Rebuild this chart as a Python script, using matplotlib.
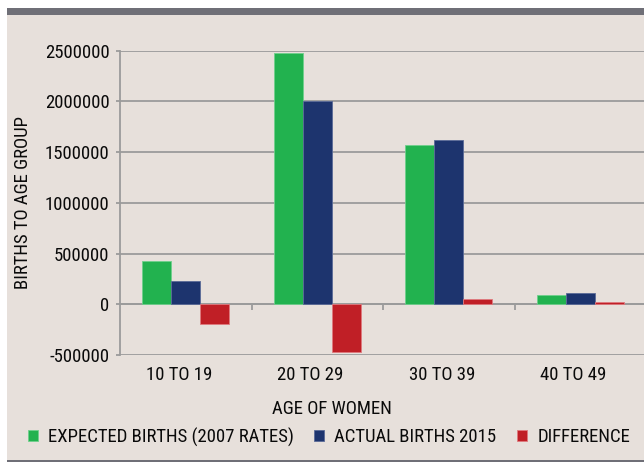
import numpy as np
import matplotlib
matplotlib.use('Agg')
import matplotlib.pyplot as plt
import matplotlib.transforms as mtransforms
from matplotlib.patches import Rectangle

plt.rcParams['font.family'] = ['Roboto Condensed', 'Liberation Sans', 'DejaVu Sans']

# data
age_groups = ['10 TO 19', '20 TO 29', '30 TO 39', '40 TO 49']
expected = [427000, 2474000, 1569000, 95000]
actual = [230000, 2007000, 1622000, 115000]
difference = [-197000, -467000, 53000, 20000]
series_names = ['EXPECTED BIRTHS (2007 RATES)', 'ACTUAL BIRTHS 2015', 'DIFFERENCE']
y_ticks = [-500000, 0, 500000, 1000000, 1500000, 2000000, 2500000]

green = '#22B24F'
navy = '#1D346E'
red = '#C01F26'
beige = '#E7E0DB'
grid = '#9B9B9B'
ink = '#0A0A0A'
fs = 13.5

fig = plt.figure(figsize=(6.44, 4.63), dpi=100)
fig.patch.set_facecolor('white')
# beige panel + grey header strip + bottom rule
fig.patches.append(Rectangle((7/644, 3/463), 1, 445/463, transform=fig.transFigure,
                             facecolor=beige, edgecolor='none', zorder=-10))
fig.patches.append(Rectangle((7/644, 448/463), 1, 7/463, transform=fig.transFigure,
                             facecolor='#6F6F77', edgecolor='none', zorder=-9))
fig.patches.append(Rectangle((7/644, 1/463), 1, 2/463, transform=fig.transFigure,
                             facecolor='#6F6F77', edgecolor='none', zorder=-9))

ax = fig.add_axes([120/644, 108/463, 526/644, 304.3/463])
ax.set_facecolor('none')

x = np.arange(len(age_groups))
w = 0.22
ax.bar(x - w, expected, w, color=green, edgecolor='#6fd08c', linewidth=0.6, label=series_names[0], zorder=3)
ax.bar(x, actual, w, color=navy, edgecolor='#5a6a98', linewidth=0.6, label=series_names[1], zorder=3)
ax.bar(x + w, difference, w, color=red, edgecolor='#e07a7e', linewidth=0.6, label=series_names[2], zorder=3)

ax.set_xlim(-0.5, 3.5)
ax.set_ylim(-500000, 2500000)
ax.set_yticks(y_ticks)
ax.set_yticklabels([str(v) for v in y_ticks])
ax.yaxis.grid(True, color=grid, linewidth=1.3, zorder=0)
ax.set_axisbelow(True)

for s in ['top', 'right', 'bottom']:
    ax.spines[s].set_visible(False)
ax.spines['left'].set_color(grid)
ax.spines['left'].set_linewidth(1.3)
ax.tick_params(axis='y', colors=grid, labelcolor=ink, labelsize=fs, length=3, width=1.3, pad=4.5)
ax.set_xticks(x)
ax.set_xticklabels(age_groups)
ax.tick_params(axis='x', length=0, labelsize=fs, labelcolor=ink, pad=8)
shift = mtransforms.ScaledTranslation(-7/100, 0, fig.dpi_scale_trans)
for lab in ax.get_xticklabels():
    lab.set_transform(lab.get_transform() + shift)

# category separators sitting on the zero line
sec = ax.secondary_xaxis(1/6)
sec.set_xticks([0.5, 1.5, 2.5])
sec.set_xticklabels([])
sec.tick_params(direction='out', length=4, width=1.3, color=grid)
sec.spines['bottom'].set_color(grid)
sec.spines['bottom'].set_linewidth(1.3)

ax.set_ylabel('BIRTHS TO AGE GROUP', fontsize=fs, color=ink)
ax.yaxis.set_label_coords((23 - 120)/526, 0.5)
ax.set_xlabel('AGE OF WOMEN', fontsize=fs, color=ink)
ax.xaxis.set_label_coords((332 - 120)/526, -(408.5 - 355)/304.3)
ax.xaxis.label.set_va('center')
ax.yaxis.label.set_va('center')

fig.legend(loc='center', bbox_to_anchor=(329/644, 1 - 437/463), ncol=3, frameon=False,
           fontsize=fs, handlelength=0.52, handleheight=0.52, handletextpad=0.55,
           columnspacing=1.1, labelcolor=ink, borderpad=0)

fig.savefig('out.png', dpi=100, facecolor=fig.get_facecolor())
